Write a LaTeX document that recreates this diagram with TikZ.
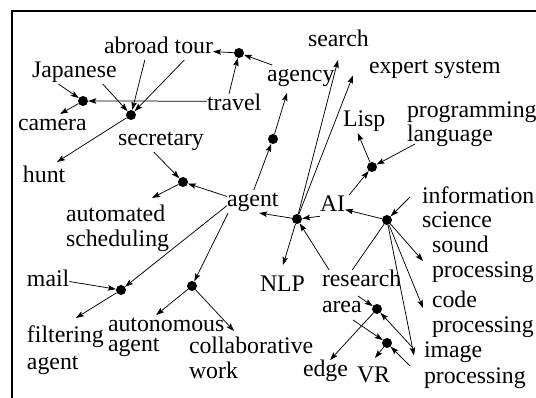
\documentclass[tikz,border=0pt]{standalone}
\usepackage{fontspec}
\setmainfont{Liberation Serif}
\usetikzlibrary{arrows.meta}
% invisible rule giving every text line the same height (17pt) and depth (6pt)
\newcommand\lstrut{\rule[-6pt]{0pt}{23pt}}

\begin{document}
% let the line spacing of the stacked labels be exactly the baselineskip
\lineskip=0pt
\lineskiplimit=-100pt
\begin{tikzpicture}[x=1pt,y=-1pt,
  lbl/.style={inner sep=0pt, outer sep=0pt, anchor=north west, yshift=17pt, align=left,
    font=\fontsize{23.8}{#1}\selectfont},
  lbl/.default=25,
  dot/.style={circle, fill=black, inner sep=0pt, minimum size=10pt},
  conn/.style={line width=0.75pt, -{Stealth[length=8pt,width=5.5pt,inset=1.5pt]}},
  link/.style={line width=0.75pt}]

\useasboundingbox (0,0) rectangle (536,398);

% frame
\draw[line width=2pt] (12,398) -- (12,11.3) -- (536,11.3);

% labels (placed by the baseline of their first line)
\node[lbl] (tour) at (104,54) {\lstrut abroad tour};
\node[lbl] (japan) at (32,78) {\lstrut Japanese};
\node[lbl] (camera) at (18,131) {\lstrut camera};
\node[lbl] (travel) at (207,111) {\lstrut travel};
\node[lbl] (agency) at (267,82) {\lstrut agency};
\node[lbl] (search) at (308,47) {\lstrut search};
\node[lbl] (expert) at (369,74) {\lstrut expert system};
\node[lbl] (lisp) at (343,127) {\lstrut Lisp};
\node[lbl=24] (prog) at (407,118) {\lstrut programming\\\lstrut language};
\node[lbl] (secretary) at (118,146) {\lstrut secretary};
\node[lbl] (hunt) at (23,183) {\lstrut hunt};
\node[lbl] (agent) at (227,207) {\lstrut agent};
\node[lbl] (ai) at (320,212) {\lstrut AI};
\node[lbl=24] (info) at (422,204) {\lstrut information\\\lstrut science};
\node[lbl] (sched) at (66,222) {\lstrut automated\\\lstrut scheduling};
\node[lbl] (sound) at (432,253) {\lstrut sound\\\lstrut processing};
\node[lbl] (code) at (432,308) {\lstrut code\\\lstrut processing};
\node[lbl=26] (image) at (424,357) {\lstrut image\\\lstrut processing};
\node[lbl=26] (research) at (322,287) {\lstrut research\\\lstrut area};
\node[lbl] (nlp) at (260,292) {\lstrut NLP};
\node[lbl] (edgelbl) at (303,377) {\lstrut edge};
\node[lbl] (vr) at (357,382) {\lstrut VR};
\node[lbl] (mail) at (27,287) {\lstrut mail};
\node[lbl=27] (filter) at (27,343) {\lstrut filtering\\\lstrut agent};
\node[lbl=20] (auto) at (108,332) {\lstrut autonomous\\\lstrut agent};
\node[lbl] (collab) at (189,353) {\lstrut collaborative\\\lstrut work};

% junction dots
\node[dot] (dTour) at (239,53) {};
\node[dot] (dCam) at (83,101) {};
\node[dot] (dSec) at (131,115) {};
\node[dot] (dSched) at (183,182) {};
\node[dot] (dAgency) at (273,139) {};
\node[dot] (dNLP) at (297,219) {};
\node[dot] (dLisp) at (372,167) {};
\node[dot] (dInfo) at (387,220) {};
\node[dot] (dArea) at (377,309) {};
\node[dot] (dVR) at (387,343) {};
\node[dot] (dMail) at (121,290) {};
\node[dot] (dAuto) at (192,286) {};

% connectors
\draw[conn] (dTour) -- (tour);
\draw[conn] (travel.114) -- (dTour);
\draw[conn] (agency.158) -- (dTour);
\draw[conn] (travel.171) -- (dCam);
\draw[conn] (japan.-144) -- (dCam);
\draw[conn] (dCam) -- (camera.56);
\draw[conn] (japan.-22) -- (dSec);
\draw[conn] (tour.-140) -- (dSec);
\draw[conn] (tour.-24) -- (dSec);
\draw[conn] (dSec) -- ([shift={(34,-4)}]hunt.north west);
\draw[conn] (secretary.-122) -- (dSched);
\draw[conn] (agent.169) -- (dSched);
\draw[conn] (dSched) -- ([shift={(86,-7)}]sched.north west);
\draw[conn] (agent.85) -- (dAgency);
\draw[conn] (dAgency) -- ([shift={(20,5)}]agency.south west);
\draw[conn] (dNLP) -- (agent.-61);
\draw[conn] (ai.-142) -- (dNLP);
\draw[conn] (research.143) -- (dNLP);
\draw[link] (research.111) -- (dInfo);
\draw[conn] (dNLP) -- ([shift={(23,-10)}]nlp.north west);
\draw[conn] (dNLP) -- ([shift={(30,7)}]search.south west);
\draw[conn] (dNLP) -- ([shift={(-16,7)}]expert.west);
\draw[conn] ([shift={(4,0)}]ai.north east) -- (dLisp);
\draw[conn] (dLisp) -- (lisp.-119);
\draw[conn] ([shift={(8,-4)}]prog.south west) -- (dLisp);
\draw[conn] (dInfo) -- (ai);
\draw[conn] ([shift={(-12,10)}]info.north west) -- (dInfo);
\draw[conn] (dInfo) -- ([shift={(-9,1)}]sound.west);
\draw[conn] (dInfo) -- ([shift={(-9,-7)}]code.west);
\draw[conn] (dInfo) -- ([shift={(-10,-9)}]image.west);
\draw[conn] ([shift={(36,1.5)}]research.west) -- (dArea);
\draw[conn] ([shift={(31,1)}]research.south west) -- (dVR);
\draw[conn] (dArea) -- (edgelbl.68);
\draw[conn] ([shift={(-12,-17.5)}]image.west) -- (dArea);
\draw[conn] ([shift={(-14,1.5)}]image.west) -- (dVR);
\draw[conn] (dVR) -- ([shift={(18,-7)}]vr.north west);
\draw[conn] (mail.east) -- (dMail);
\draw[conn] (agent.-171) -- (dMail);
\draw[conn] (dMail) -- ([shift={(49,-8)}]filter.north west);
\draw[conn] (agent.-155) -- (dAuto);
\draw[conn] (dAuto) -- (auto.115);
\draw[conn] (dAuto) -- ([shift={(45,-5)}]collab.north west);
\end{tikzpicture}
\end{document}
